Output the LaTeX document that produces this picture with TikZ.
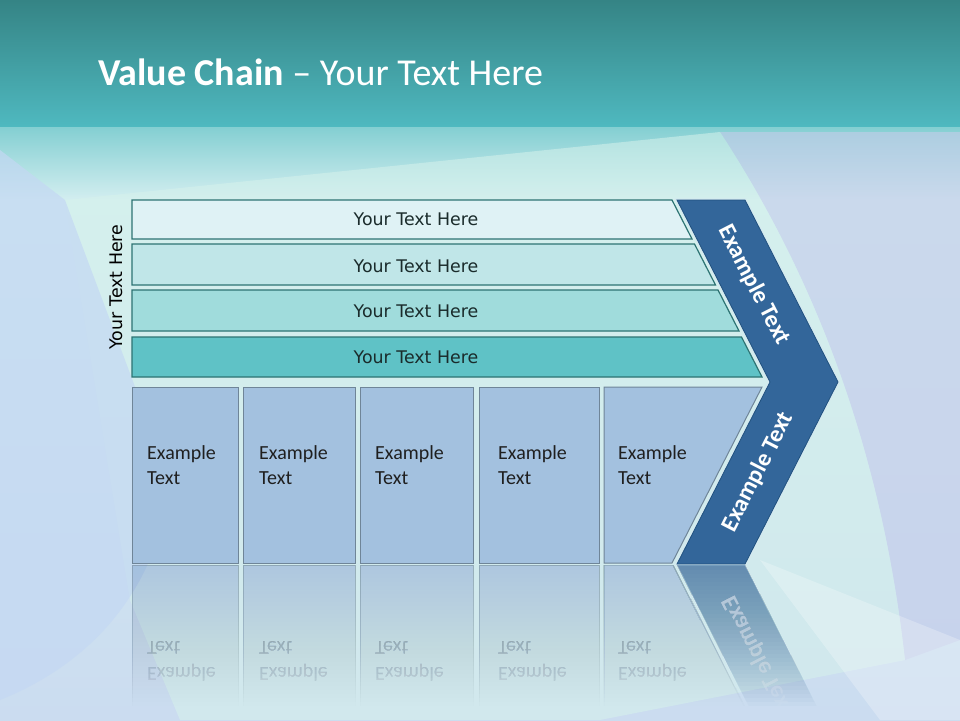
\documentclass[tikz,border=0pt]{standalone}
\usepackage{fontspec}
\setmainfont{Carlito}
\newfontfamily\dvs{DejaVu Sans}
\definecolor{tealtop}{HTML}{358485}
\definecolor{tealbot}{HTML}{4FB9C0}
\definecolor{bandA}{HTML}{84CFD2}
\definecolor{bandB}{HTML}{D3EEF0}
\definecolor{bglow}{HTML}{CBDCF0}
\definecolor{mint}{HTML}{D6F2EC}
\definecolor{righttint}{HTML}{C5CCEA}
\definecolor{leftblue}{HTML}{C4D8F3}
\definecolor{barA}{HTML}{DFF2F5}
\definecolor{barB}{HTML}{C0E6E8}
\definecolor{barC}{HTML}{A0DCDC}
\definecolor{barD}{HTML}{5FC2C6}
\definecolor{barline}{HTML}{2D7373}
\definecolor{boxfill}{HTML}{A3C1DF}
\definecolor{boxline}{HTML}{6F8598}
\definecolor{chev}{HTML}{33669A}
\definecolor{chevline}{HTML}{21527F}
\definecolor{glow}{HTML}{D4E8F0}
\definecolor{darktext}{HTML}{1A2B2B}
\begin{document}
\begin{tikzpicture}[x=1pt,y=-1pt,
  barshape/.style={fill=#1, draw=barline, line width=1.2pt},
  bartext/.style={font=\dvs\fontsize{17.4}{20}\selectfont, text=darktext, inner sep=0pt},
  boxshape/.style={fill=boxfill, draw=boxline, line width=1pt},
  boxtext/.style={font=\fontsize{20}{25.5}\selectfont, text=black!88, align=left, anchor=base west, inner sep=0pt},
  reflbox/.style={fill=boxfill, draw=boxline, line width=1pt, opacity=0.0196},
  reflchev/.style={fill=chev, draw=glow, line width=1.2pt, opacity=0.0273},
  refltext/.style={boxtext, yscale=-1, text opacity=0.0154},
  chevtext/.style={font=\bfseries\fontsize{24}{28}\selectfont, text=white, inner sep=0pt},
]
\useasboundingbox (0,0) rectangle (960,720);
% ---------- background ----------
\shade[top color=tealtop, bottom color=tealbot] (0,0) rectangle (960,127);
\shade[top color=bandA, bottom color=bandB] (0,127) rectangle (960,200);
\shade[top color=bandB, bottom color=bglow] (0,200) rectangle (960,720);
\fill[righttint, opacity=0.6] (720,132) .. controls (830,300) and (885,480) .. (905,660) -- (960,640) -- (960,132) -- cycle;
\fill[mint, opacity=0.55] (65,200) -- (720,132) .. controls (830,300) and (885,480) .. (905,660) -- (600,720) -- (180,720) -- (130,600) -- cycle;
\fill[leftblue, opacity=0.7] (0,150) -- (65,200) -- (170,480) .. controls (160,580) and (100,660) .. (0,700) -- cycle;
\fill[white, opacity=0.25] (760,560) -- (960,640) -- (960,720) -- (880,720) -- cycle;
% ---------- title ----------
\node[anchor=base west, inner sep=0pt, text=white, font=\fontsize{38}{40}\selectfont] (title) at (98,85) {\textbf{Value Chain} – Your Text Here};
% ---------- chevron ----------
\draw[glow, line width=3pt, line join=miter] (677,200) -- (745,200) -- (838,382) -- (745,564) -- (677,564) -- (770,382) -- cycle;
\draw[fill=chev, draw=chevline, line width=0.8pt] (677,200) -- (745,200) -- (838,382) -- (745,564) -- (677,564) -- (770,382) -- cycle;
\node[chevtext, rotate=-62.9] (chevA) at (754,285) {Example Text};
\node[chevtext, rotate=62.9] (chevB) at (758,472) {Example Text};
% ---------- bars ----------
\draw[barshape=barA] (132,200) -- (672,200) -- (692,239) -- (132,239) -- cycle;
\draw[barshape=barB] (132,244) -- (694.5,244) -- (715.5,285) -- (132,285) -- cycle;
\draw[barshape=barC] (132,290) -- (718,290) -- (739,331) -- (132,331) -- cycle;
\draw[barshape=barD] (132,337) -- (741.5,337) -- (762,377) -- (132,377) -- cycle;
\node[bartext] (barT1) at (416,219) {Your Text Here};
\node[bartext] (barT2) at (416,266) {Your Text Here};
\node[bartext] (barT3) at (416,311) {Your Text Here};
\node[bartext] (barT4) at (416,357) {Your Text Here};
\node[bartext, text=black, rotate=90] (side) at (116,287) {Your Text Here};
% ---------- boxes ----------
\draw[boxshape] (132,387) rectangle (238,563);
\draw[boxshape] (243,387) rectangle (355,563);
\draw[boxshape] (360,387) rectangle (473,563);
\draw[boxshape] (479,387) rectangle (599,563);
\draw[boxshape] (604,387) -- (762,387) -- (672,563) -- (604,563) -- cycle;
\node[boxtext] (bx1) at (147,484.5) {Example\\Text};
\node[boxtext] (bx2) at (259,484.5) {Example\\Text};
\node[boxtext] (bx3) at (375,484.5) {Example\\Text};
\node[boxtext] (bx4) at (498,484.5) {Example\\Text};
\node[boxtext] (bx5) at (618,484.5) {Example\\Text};
% ---------- reflections (stacked faint layers, fading downwards) ----------
\foreach \k in {1,...,35} {
  \pgfmathsetmacro{\yb}{565+4*\k}
  \begin{scope}
    \clip (0,565) rectangle (960,\yb);
    \path[reflbox] (132,565) rectangle (238,745);
    \path[reflbox] (243,565) rectangle (355,745);
    \path[reflbox] (360,565) rectangle (473,745);
    \path[reflbox] (479,565) rectangle (599,745);
    \path[reflbox] (604,565) -- (673,565) -- (764,745) -- (604,745) -- cycle;
    \path[reflchev] (677,565) -- (745,565) -- (838,748) -- (770,748) -- cycle;
    \node[refltext] (rx1-\k) at (147,641.5) {Example\\Text};
    \node[refltext] (rx2-\k) at (259,641.5) {Example\\Text};
    \node[refltext] (rx3-\k) at (375,641.5) {Example\\Text};
    \node[refltext] (rx4-\k) at (498,641.5) {Example\\Text};
    \node[refltext] (rx5-\k) at (618,641.5) {Example\\Text};
    \node[chevtext, yscale=-1, rotate=62.9, text opacity=0.0528] (chevR-\k) at (758,656) {Example Text};
  \end{scope}
}
\end{tikzpicture}
\end{document}
